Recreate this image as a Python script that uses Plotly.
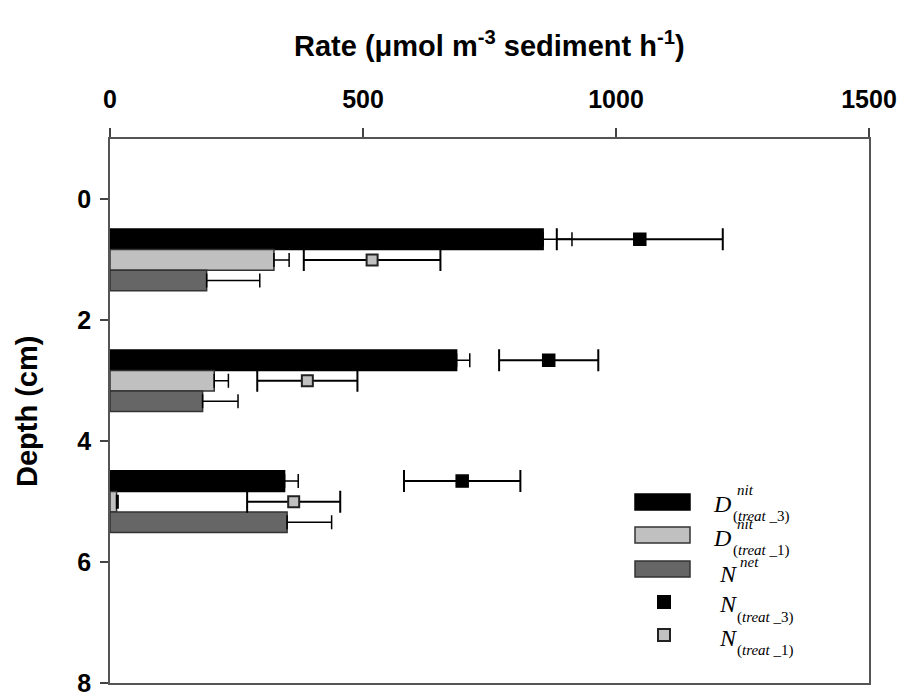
import plotly.graph_objects as go

# ---- data ----
depths = [1, 3, 5]
d_nit_treat3 = [856, 685, 345]
d_nit_treat3_err = [57, 26, 27]
d_nit_treat1 = [324, 206, 13]
d_nit_treat1_err = [30, 28, 3]
n_net = [191, 183, 350]
n_net_err = [105, 70, 88]
n_treat3 = [1047, 867, 696]
n_treat3_err = [164, 98, 115]
n_treat1 = [518, 390, 363]
n_treat1_err = [135, 99, 92]
x_ticks = [0, 500, 1000, 1500]
y_ticks = [0, 2, 4, 6, 8]

BAR_OFFSET = 0.34  # depth offset of the top bar within each group

fig = go.Figure()

def bar(vals, errs, fill, line):
    fig.add_trace(go.Bar(
        x=vals, y=depths, orientation="h",
        marker=dict(color=fill, line=dict(color=line, width=1.5)),
        error_x=dict(type="data", array=errs, arrayminus=[0] * len(errs),
                     color="black", thickness=1.5, width=7),
        showlegend=False,
    ))

bar(d_nit_treat3, d_nit_treat3_err, "#000000", "#000000")
bar(d_nit_treat1, d_nit_treat1_err, "#c0c0c0", "#333333")
bar(n_net, n_net_err, "#666666", "#333333")

fig.add_trace(go.Scatter(
    x=n_treat3, y=[d - BAR_OFFSET for d in depths], mode="markers",
    marker=dict(symbol="square", size=12, color="#000000",
                line=dict(color="#000000", width=1.5)),
    error_x=dict(type="data", array=n_treat3_err, color="black", thickness=2, width=11),
    showlegend=False,
))
fig.add_trace(go.Scatter(
    x=n_treat1, y=depths, mode="markers",
    marker=dict(symbol="square", size=11, color="#c0c0c0",
                line=dict(color="#222222", width=2)),
    error_x=dict(type="data", array=n_treat1_err, color="black", thickness=2, width=11),
    showlegend=False,
))

# ---- layout geometry (pixels) ----
W, H = 906, 698
L, R, T, B = 110, 869, 139, 683
def px(x):
    return (x - L) / (R - L)
def py(y):
    return (B - y) / (B - T)

# ---- custom legend ----
swatches = [("#000000", "#000000", 502), ("#c0c0c0", "#333333", 535), ("#666666", "#333333", 569)]
for fill, line, yc in swatches:
    fig.add_shape(type="rect", xref="paper", yref="paper",
                  x0=px(635), x1=px(690), y0=py(yc + 8), y1=py(yc - 8),
                  fillcolor=fill, line=dict(color=line, width=1.5))
for fill, line, yc in [("#000000", "#000000", 602), ("#c0c0c0", "#222222", 635)]:
    fig.add_shape(type="rect", xref="paper", yref="paper",
                  x0=px(658), x1=px(670), y0=py(yc + 6), y1=py(yc - 6),
                  fillcolor=fill, line=dict(color=line, width=2))

serif = "Liberation Serif, Times New Roman, serif"
def txt(s, x, y, size):
    fig.add_annotation(text=s, xref="paper", yref="paper", x=px(x), y=py(y),
                       xanchor="left", yanchor="middle", showarrow=False,
                       font=dict(family=serif, size=size, color="black"))

big, small = 24, 15
txt("<i>D</i>", 711, 504, big)
txt("<i>nit</i>", 735, 490, small)
txt("(<i>treat</i> _3)", 731, 516, small)
txt("<i>D</i>", 711, 538, big)
txt("<i>nit</i>", 735, 524, small)
txt("(<i>treat</i> _1)", 731, 550, small)
txt("<i>N</i>", 717, 574, big)
txt("<i>net</i>", 738, 562, small)
txt("<i>N</i>", 717, 604, big)
txt("(<i>treat</i> _3)", 735, 617, small)
txt("<i>N</i>", 717, 638, big)
txt("(<i>treat</i> _1)", 735, 650, small)

# ---- axis titles ----
sans = "Liberation Sans, Arial, sans-serif"
fig.add_annotation(text="<b>Rate (μmol m<sup>-3</sup> sediment h<sup>-1</sup>)</b>",
                   xref="paper", yref="paper", x=px(489), y=py(44),
                   xanchor="center", yanchor="middle", showarrow=False,
                   font=dict(family=sans, size=29, color="black"))
fig.add_annotation(text="<b>Depth (cm)</b>",
                   xref="paper", yref="paper", x=px(27), y=py(412),
                   xanchor="center", yanchor="middle", showarrow=False, textangle=-90,
                   font=dict(family=sans, size=29, color="black"))

fig.update_layout(
    width=W, height=H,
    margin=dict(l=L, r=W - R, t=T, b=H - B, autoexpand=False),
    paper_bgcolor="white", plot_bgcolor="white",
    barmode="group", bargap=0.49, bargroupgap=0,
    font=dict(family=sans, color="black"),
    xaxis=dict(
        side="top", range=[0, 1500], tickvals=x_ticks, automargin=False,
        ticks="outside", ticklen=9, tickwidth=1.5, tickcolor="#444",
        ticklabelstandoff=10, ticklabeloverflow="allow",
        showline=True, linecolor="#555", linewidth=1.5, mirror=True,
        showgrid=False, zeroline=False,
        tickfont=dict(family=sans, size=25, color="black", weight="bold"),
    ),
    yaxis=dict(
        range=[8, -1], tickvals=y_ticks, automargin=False,
        ticks="outside", ticklen=8, tickwidth=1.5, tickcolor="#444",
        ticklabelstandoff=4, ticklabeloverflow="allow",
        showline=True, linecolor="#555", linewidth=1.5, mirror=True,
        showgrid=False, zeroline=False,
        tickfont=dict(family=sans, size=25, color="black", weight="bold"),
    ),
)

fig.write_html("out.html")
